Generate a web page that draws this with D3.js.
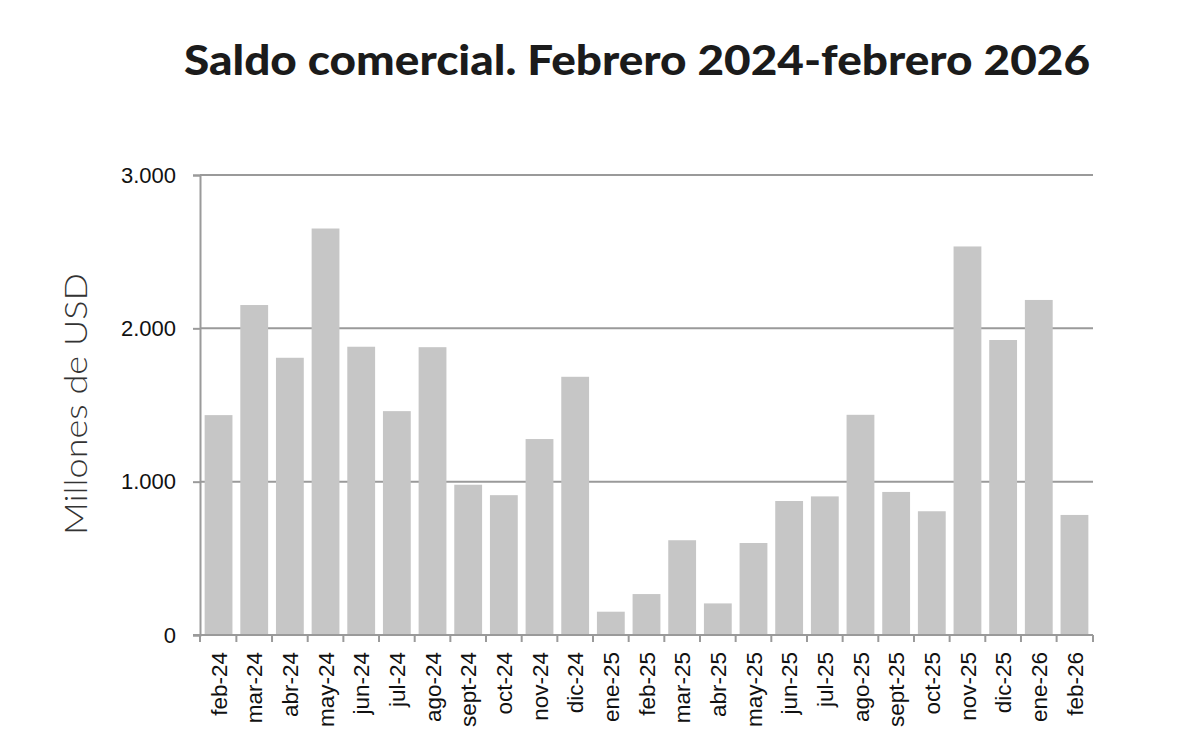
<!DOCTYPE html>
<html>
<head>
<meta charset="utf-8">
<script src="https://cdn.jsdelivr.net/npm/d3@7"></script>
<style>
  body { margin: 0; background: #fff; }
  svg { display: block; }
</style>
</head>
<body>
<div id="chart"></div>
<script>
const months = [
  "feb-24", "mar-24", "abr-24", "may-24", "jun-24", "jul-24", "ago-24",
  "sept-24", "oct-24", "nov-24", "dic-24", "ene-25", "feb-25", "mar-25",
  "abr-25", "may-25", "jun-25", "jul-25", "ago-25", "sept-25", "oct-25",
  "nov-25", "dic-25", "ene-26", "feb-26"
];
// millones de USD
const saldo = [
  1434, 2152, 1808, 2651, 1880, 1460, 1877,
  980, 912, 1278, 1684, 152, 267, 618,
  206, 600, 874, 904, 1436, 933, 807,
  2534, 1924, 2185, 783
];
const yTicks = [0, 1000, 2000, 3000];
const title = "Saldo comercial. Febrero 2024-febrero 2026";
const yLabel = "Millones de USD";

const width = 1200;
const height = 751;
const margin = { top: 175, right: 107, bottom: 116, left: 200 };

const data = months.map((m, i) => ({ month: m, value: saldo[i] }));

const es = d3.formatLocale({ decimal: ",", thousands: ".", grouping: [3], currency: ["", ""] });
const fmt = es.format(",");

const svg = d3.select("#chart")
  .append("svg")
  .attr("width", width)
  .attr("height", height)
  .attr("viewBox", [0, 0, width, height]);

const x = d3.scaleBand()
  .domain(months)
  .range([margin.left, width - margin.right])
  .paddingInner(0.22)
  .paddingOuter(0.13);

const y = d3.scaleLinear()
  .domain([0, 3000])
  .range([height - margin.bottom, margin.top]);

// Title
svg.append("text")
  .attr("x", 637)
  .attr("y", 75)
  .attr("text-anchor", "middle")
  .attr("font-family", "Lato, 'Open Sans', sans-serif")
  .attr("font-weight", 900)
  .attr("font-size", 41)
  .attr("fill", "#1b1b1b")
  .attr("textLength", 906)
  .attr("lengthAdjust", "spacingAndGlyphs")
  .text(title);

// gridlines (behind bars)
svg.append("g")
  .selectAll("line")
  .data(yTicks.filter((d) => d > 0))
  .join("line")
  .attr("x1", margin.left)
  .attr("x2", width - margin.right)
  .attr("y1", (d) => y(d))
  .attr("y2", (d) => y(d))
  .attr("stroke", "#9a9a9a")
  .attr("stroke-width", 2);

// bars
svg.append("g")
  .selectAll("rect")
  .data(data)
  .join("rect")
  .attr("x", (d) => x(d.month))
  .attr("y", (d) => y(d.value))
  .attr("width", x.bandwidth())
  .attr("height", (d) => y(0) - y(d.value))
  .attr("fill", "#c6c6c6");

// y axis
const yAxis = svg.append("g")
  .attr("transform", `translate(${margin.left},0)`)
  .call(d3.axisLeft(y).tickValues(yTicks).tickFormat(fmt).tickSize(7).tickPadding(17));

yAxis.select(".domain").attr("stroke", "#9a9a9a").attr("stroke-width", 2);
yAxis.selectAll(".tick line").attr("stroke", "#9a9a9a").attr("stroke-width", 2);
yAxis.selectAll(".tick text")
  .attr("font-family", "'Liberation Sans', Arial, sans-serif")
  .attr("font-size", 22)
  .attr("fill", "#111");

// x axis
const xAxis = svg.append("g")
  .attr("transform", `translate(0,${y(0)})`);

xAxis.append("line")
  .attr("x1", margin.left - 7)
  .attr("x2", width - margin.right)
  .attr("stroke", "#9a9a9a")
  .attr("stroke-width", 2);

const step = x.step();
const bounds = months.map((m) => x(m) - (step * x.paddingInner()) / 2);
bounds[0] = margin.left;
bounds.push(width - margin.right);

xAxis.selectAll(".xtick")
  .data(bounds)
  .join("line")
  .attr("class", "xtick")
  .attr("x1", (d) => d)
  .attr("x2", (d) => d)
  .attr("y1", 0)
  .attr("y2", 7)
  .attr("stroke", "#9a9a9a")
  .attr("stroke-width", 2);

xAxis.selectAll(".xlabel")
  .data(months)
  .join("text")
  .attr("class", "xlabel")
  .attr("transform", (d) => `translate(${x(d) + x.bandwidth() / 2},17) rotate(-90)`)
  .attr("text-anchor", "end")
  .attr("dy", "0.36em")
  .attr("font-family", "'Liberation Sans', Arial, sans-serif")
  .attr("font-size", 22.5)
  .attr("fill", "#111")
  .text((d) => d);

// y label
svg.append("text")
  .attr("transform", "translate(87,404) rotate(-90)")
  .attr("text-anchor", "middle")
  .attr("font-family", "Lato, 'Open Sans', sans-serif")
  .attr("font-weight", 300)
  .attr("font-size", 31)
  .attr("fill", "#333")
  .attr("textLength", 262)
  .attr("lengthAdjust", "spacingAndGlyphs")
  .text(yLabel);
</script>
</body>
</html>
